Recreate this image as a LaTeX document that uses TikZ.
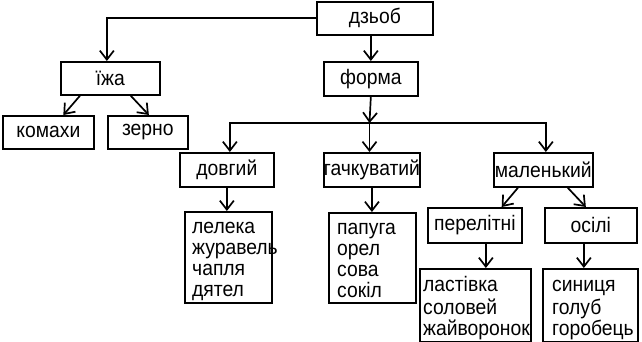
\documentclass[tikz,border=0pt]{standalone}
\usepackage{fontspec}
\setmainfont{Liberation Sans}[FakeStretch=0.92]
\usetikzlibrary{arrows.meta}
\begin{document}
\begin{tikzpicture}[x=1pt,y=-1pt,
  box/.style={draw, line width=1.7pt, inner sep=0pt, anchor=north west, font=\fontsize{21}{21}\selectfont},
  lst/.style={inner sep=0pt, anchor=north west, align=left, font=\fontsize{21}{21}\selectfont},
  con/.style={line width=1.7pt},
  arr/.style={con, -{Straight Barb[length=9pt,width=14pt]}}]
\useasboundingbox (0,0) rectangle (642,342);
% boxes
\node[box, minimum width=116pt, minimum height=33pt] (dz) at (316,1) {дзьоб};
\node[box, minimum width=99pt, minimum height=33pt] (izha) at (60,61) {їжа};
\node[box, minimum width=94pt, minimum height=34pt] (forma) at (323,61) {форма};
\node[box, minimum width=91pt, minimum height=33pt] (komahy) at (2,115) {комахи};
\node[box, minimum width=80pt, minimum height=33pt] (zerno) at (107,115) {зерно};
\node[box, minimum width=94pt, minimum height=34pt] (dovgyi) at (179,152) {довгий};
\node[box, minimum width=93pt, minimum height=34pt] (gach) at (323,152) {гачкуватий};
\node[box, minimum width=99pt, minimum height=34pt] (malen) at (493,152) {маленький};
\node[box, minimum width=87pt, minimum height=91pt] (lel) at (184,211) {};
\node[box, minimum width=87pt, minimum height=90pt] (pap) at (328,212) {};
\node[box, minimum width=94pt, minimum height=35pt] (perel) at (427,207) {перелітні};
\node[box, minimum width=92pt, minimum height=35pt] (osili) at (544,207) {осілі};
\node[box, minimum width=111pt, minimum height=73pt] (last) at (419,268) {};
\node[box, minimum width=95pt, minimum height=73pt] (syn) at (542,268) {};
% list texts
\node[lst] (lel-t) at (192,218.5) {\strut лелека\\журавель\\чапля\\дятел};
\node[lst] (pap-t) at (337,219.5) {\strut папуга\\орел\\сова\\сокіл};
\node[lst] (last-t) at (423,276.5) {\strut ластівка\\соловей\\жайворонок};
\node[lst] (syn-t) at (552,276.5) {\strut синиця\\голуб\\горобець};
% connectors
\draw[arr] (dz.west) -| ([xshift=-3.5pt]izha.north);
\draw[arr] (dz.south -| forma.north) -- (forma.north);
\coordinate (j) at (369.5,123);
\draw[arr] (forma.south) -- (j);
\draw[arr] (j) -| ([xshift=3pt]dovgyi.north);
\draw[arr] (j) -| ([xshift=2.5pt]malen.north);
\draw[arr] (j) -- (j |- gach.north);
\draw[arr] ([xshift=20pt]izha.south west) -- ([xshift=15pt]komahy.north);
\draw[arr] ([xshift=-30pt]izha.south east) -- ([xshift=1pt]zerno.north);
\draw[arr] ([xshift=25pt]malen.south west) -- ([xshift=-21pt]perel.north east);
\draw[arr] ([xshift=-26pt]malen.south east) -- ([xshift=-5pt]osili.north);
\draw[arr] (dovgyi.south) -- (dovgyi.south |- lel.north);
\draw[arr] (gach.south) -- (gach.south |- pap.north);
\draw[arr] ([xshift=11pt]perel.south) -- ([xshift=11pt]perel.south |- last.north);
\draw[arr] ([xshift=-7pt]osili.south) -- ([xshift=-7pt]osili.south |- syn.north);
\end{tikzpicture}
\end{document}
